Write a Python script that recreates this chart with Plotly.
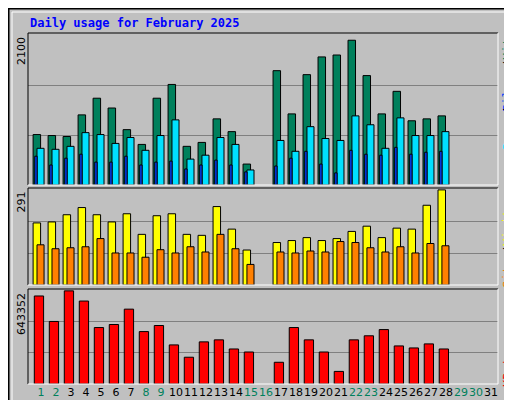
import plotly.graph_objects as go

days = list(range(1, 32))
day_nums = [d for d in range(1, 29) if d != 16]

hits = [711, 697, 683, 988, 1223, 1085, 780, 572, 1223, 1417, 545, 600, 932, 752, 295,
        1611, 1002, 1555, 1805, 1832, 2040, 1542, 1002, 1320, 905, 932, 974]
pages = [517, 503, 545, 738, 711, 586, 669, 489, 697, 918, 365, 420, 669, 572, 212,
         628, 475, 822, 655, 628, 974, 849, 517, 946, 697, 697, 752]
files = [406, 282, 378, 434, 323, 323, 406, 282, 323, 337, 226, 282, 351, 282, 185,
         268, 378, 475, 295, 171, 489, 434, 420, 531, 434, 462, 475]
visits = [190, 193, 215, 237, 215, 193, 218, 155, 212, 218, 155, 152, 240, 171, 107,
          130, 136, 145, 136, 142, 164, 180, 145, 174, 171, 244, 291]
sites = [123, 111, 114, 117, 142, 98, 98, 85, 108, 98, 117, 101, 155, 111, 63,
         101, 98, 104, 101, 133, 130, 114, 101, 117, 98, 127, 120]
kbytes = [608000, 432000, 643352, 573000, 390000, 411000, 517000, 362000, 404000, 270000,
          185000, 291000, 305000, 242000, 221000, 150000, 390000, 305000, 221000, 87000,
          305000, 333000, 376000, 263000, 249000, 277000, 242000]
weekend = [1, 2, 8, 9, 15, 16, 22, 23, 29, 30]

max_hits, max_visits, max_kb = 2100, 291, 643352

GREEN, CYAN, BLUE = "#00805C", "#00E0FF", "#0040FF"
YELLOW, ORANGE, RED = "#FFFF00", "#FF8000", "#FF0000"
BG = "#C0C0C0"


def bar(y, color, off, w, ax):
    return go.Bar(x=day_nums, y=y, offset=off, width=w, marker_color=color,
                  marker_line=dict(color="black", width=1), xaxis="x" + ax,
                  yaxis="y" + ax, showlegend=False, hoverinfo="skip")


fig = go.Figure()
fig.add_trace(bar(hits, GREEN, -0.53, 0.5, ""))
fig.add_trace(bar(pages, CYAN, -0.27, 0.47, ""))
fig.add_trace(bar(files, BLUE, -0.42, 0.16, ""))
fig.add_trace(bar(visits, YELLOW, -0.53, 0.5, "2"))
fig.add_trace(bar(sites, ORANGE, -0.27, 0.47, "2"))
fig.add_trace(bar(kbytes, RED, -0.45, 0.62, "3"))

xdom = [20 / 512, 490 / 512]
xr = [0.13, 31.47]
ticktext = ["<span style='color:%s'>%d</span>" % (GREEN if d in weekend else "black", d) for d in days]
xcommon = dict(domain=xdom, range=xr, showgrid=False, zeroline=False, fixedrange=True)


def yax(dom, top):
    return dict(domain=dom, range=[0, top * 1.02], tickvals=[top / 3, 2 * top / 3],
                showticklabels=False, ticks="", showgrid=True, gridcolor="#808080",
                gridwidth=1, zeroline=False)


fig.update_layout(
    width=512, height=400, margin=dict(l=0, r=0, t=0, b=0),
    paper_bgcolor=BG, plot_bgcolor=BG, barmode="overlay",
    font=dict(family="DejaVu Sans", size=11, color="black"),
    xaxis=dict(**xcommon, anchor="y", showticklabels=False),
    xaxis2=dict(**xcommon, anchor="y2", showticklabels=False),
    xaxis3=dict(**xcommon, anchor="y3", tickvals=days, ticktext=ticktext,
                tickfont=dict(size=11), ticks="", tickangle=0),
    yaxis=yax([1 - 177 / 400, 1 - 25 / 400], max_hits),
    yaxis2=yax([1 - 277 / 400, 1 - 180 / 400], max_visits),
    yaxis3=yax([1 - 376 / 400, 1 - 281 / 400], max_kb),
)

# panel frames: black top/left, white bottom/right
for top, bot in [(25, 177), (180, 277), (281, 376)]:
    y0, y1 = 1 - bot / 400, 1 - top / 400
    for xa, ya, xb, yb, c in [(xdom[0], y0, xdom[0], y1, "black"), (xdom[0], y1, xdom[1], y1, "black"),
                              (xdom[1], y0, xdom[1], y1, "white"), (xdom[0], y0, xdom[1], y0, "white")]:
        fig.add_shape(type="line", xref="paper", yref="paper", x0=xa, y0=ya, x1=xb, y1=yb,
                      line=dict(color=c, width=1))

# outer border and bevel
fig.add_shape(type="rect", xref="paper", yref="paper", x0=0.001, y0=0.001, x1=0.999, y1=0.999,
              line=dict(color="black", width=2))
fig.add_shape(type="line", xref="paper", yref="paper", x0=4 / 512, y0=1 - 4 / 400, x1=508 / 512, y1=1 - 4 / 400,
              line=dict(color="white", width=1))
fig.add_shape(type="line", xref="paper", yref="paper", x0=4 / 512, y0=4 / 400, x1=4 / 512, y1=1 - 4 / 400,
              line=dict(color="white", width=1))
fig.add_shape(type="line", xref="paper", yref="paper", x0=4 / 512, y0=4 / 400, x1=508 / 512, y1=4 / 400,
              line=dict(color="#808080", width=2))
fig.add_shape(type="line", xref="paper", yref="paper", x0=508 / 512, y0=4 / 400, x1=508 / 512, y1=1 - 4 / 400,
              line=dict(color="#808080", width=2))

mono = "DejaVu Sans Mono"
fig.add_annotation(text="<b>Daily usage for February 2025</b>", x=20 / 512, y=1 - 15 / 400,
                   xref="paper", yref="paper", xanchor="left", yanchor="middle", showarrow=False,
                   font=dict(family=mono, size=12, color="#0000FF"))

for lbl, ytop in [(str(max_hits), 25), (str(max_visits), 180), (str(max_kb), 281)]:
    fig.add_annotation(text=lbl, x=13 / 512, y=1 - (ytop + 2) / 400, xref="paper", yref="paper",
                       textangle=-90, xanchor="center", yanchor="top", showarrow=False,
                       font=dict(family="DejaVu Sans", size=11, color="black"))

# right-side legend words, rotated, each placed by its centre pixel row
right = [("Hits", GREEN, 38), ("/", "black", 57), ("Files", BLUE, 86), ("/", "black", 104),
         ("Pages", CYAN, 124), ("Visits", YELLOW, 217), ("/", "black", 243),
         ("Sites", ORANGE, 262), ("KBytes", RED, 358)]
for word, col, yc in right:
    fig.add_annotation(text=word, x=500 / 512, y=1 - yc / 400, xref="paper", yref="paper",
                       textangle=-90, xanchor="center", yanchor="middle", showarrow=False,
                       font=dict(family=mono, size=12, color=col))

fig.write_html("out.html")
